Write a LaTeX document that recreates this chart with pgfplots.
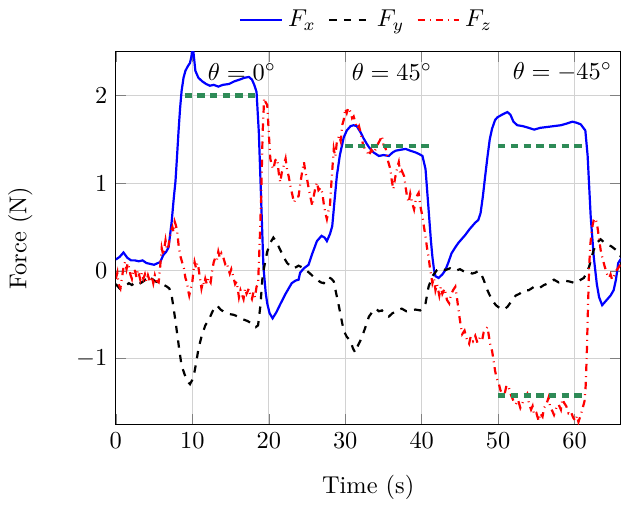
\documentclass[border=0pt]{standalone}
\usepackage{pgfplots}
\pgfplotsset{compat=1.18}
\definecolor{refgreen}{RGB}{46,139,87}
\begin{document}
\begin{tikzpicture}
\begin{axis}[
    scale only axis,
    width=207pt, height=153pt,
    xmin=0, xmax=66,
    ymin=-1.75, ymax=2.5,
    xtick={0,10,20,30,40,50,60},
    ytick={-1,0,1,2},
    xlabel={Time (s)},
    ylabel={Force (N)},
    ylabel shift=11pt,
    xlabel shift=4pt,
    grid=major,
    grid style={gray!35},
    legend style={at={(0.5,1.03)},anchor=south,legend columns=3,draw=none,
        /tikz/every even column/.append style={column sep=3pt}},
]
% F_x
\addplot[blue, line width=0.9pt] coordinates {
 (0,0.13) (0.5,0.16) (1,0.21) (1.5,0.15) (2,0.12) (2.5,0.12) (3,0.11) (3.5,0.12)
 (4,0.09) (4.5,0.08) (5,0.07) (5.5,0.09) (5.8,0.10) (6.2,0.18) (6.6,0.22) (6.9,0.27)
 (7.3,0.56) (7.6,0.85) (7.8,1.02) (8.0,1.30) (8.2,1.59) (8.4,1.85) (8.6,2.05) (8.85,2.20)
 (9.1,2.28) (9.4,2.33) (9.7,2.37) (9.9,2.45) (10.05,2.58) (10.2,2.45) (10.4,2.28) (10.8,2.20)
 (11.3,2.16) (11.8,2.13) (12.3,2.11) (12.8,2.12) (13.4,2.10) (14,2.12) (14.8,2.13) (15.5,2.16)
 (16.2,2.18) (16.8,2.20) (17.4,2.21) (17.8,2.18) (18.1,2.12) (18.4,2.04) (18.7,1.58) (19.0,0.82)
 (19.3,0.05) (19.6,-0.25) (19.8,-0.37) (20.1,-0.48) (20.5,-0.54) (21,-0.47) (21.5,-0.38) (22.2,-0.26)
 (22.6,-0.20) (23.0,-0.14) (23.5,-0.11) (23.9,-0.10) (24.1,-0.02) (24.6,0.03) (25.2,0.07) (25.7,0.20)
 (26.3,0.34) (26.9,0.40) (27.3,0.38) (27.6,0.34) (28.0,0.42) (28.3,0.51) (28.6,0.80) (28.9,1.08)
 (29.3,1.32) (29.8,1.52) (30.2,1.60) (30.7,1.65) (31.1,1.66) (31.5,1.65) (32.0,1.58) (32.4,1.51)
 (32.8,1.45) (33.1,1.41) (33.7,1.35) (34.4,1.31) (35.0,1.32) (35.7,1.31) (36.2,1.35) (36.6,1.37)
 (37.2,1.38) (37.9,1.39) (38.5,1.37) (39.2,1.35) (39.7,1.33) (40.1,1.31) (40.5,1.16) (40.9,0.70)
 (41.2,0.35) (41.4,0.16) (41.6,0.02) (41.8,-0.06) (42.2,-0.08) (42.7,-0.04) (43.1,0.01) (43.5,0.10)
 (43.9,0.20) (44.4,0.27) (44.8,0.32) (45.3,0.37) (45.7,0.41) (46.3,0.48) (47.0,0.55) (47.4,0.58)
 (47.7,0.66) (48.0,0.85) (48.3,1.08) (48.6,1.30) (48.9,1.50) (49.2,1.62) (49.6,1.72) (49.9,1.75)
 (50.5,1.78) (51.2,1.81) (51.6,1.78) (52.0,1.70) (52.5,1.66) (53.2,1.65) (54.0,1.63) (54.7,1.61)
 (55.5,1.63) (56.4,1.64) (57.3,1.65) (58.2,1.66) (59.0,1.68) (59.7,1.70) (60.2,1.69) (60.8,1.67)
 (61.4,1.60) (61.7,1.31) (62.1,0.62) (62.5,0.16) (62.9,-0.15) (63.2,-0.30) (63.6,-0.39) (64.2,-0.33)
 (64.7,-0.28) (65.1,-0.22) (65.4,-0.10) (65.7,0.09) (66.3,0.17)
};
% F_y
\addplot[black, dashed, line width=0.9pt] coordinates {
 (0,-0.15) (0.5,-0.20) (0.8,-0.18) (1.3,-0.17) (1.7,-0.14) (2.1,-0.16) (2.6,-0.13) (3.0,-0.15)
 (3.4,-0.13) (3.9,-0.10) (4.3,-0.12) (4.7,-0.09) (5.2,-0.12) (5.6,-0.13) (6.1,-0.15) (6.7,-0.18)
 (7.0,-0.20) (7.3,-0.28) (7.6,-0.45) (8.0,-0.70) (8.3,-0.90) (8.6,-1.08) (9.0,-1.18) (9.3,-1.25)
 (9.7,-1.29) (10.0,-1.24) (10.2,-1.19) (10.5,-1.05) (10.8,-0.89) (11.2,-0.75) (11.7,-0.62) (12.2,-0.55)
 (12.6,-0.47) (13.0,-0.40) (13.3,-0.40) (13.7,-0.44) (14.2,-0.47) (14.8,-0.49) (15.4,-0.50) (16.0,-0.52)
 (16.6,-0.55) (17.2,-0.57) (17.8,-0.60) (18.3,-0.64) (18.6,-0.62) (18.9,-0.40) (19.2,-0.05) (19.5,0.09)
 (19.8,0.22) (20.2,0.32) (20.6,0.38) (21.0,0.33) (21.5,0.24) (22.0,0.15) (22.4,0.09) (22.9,0.05)
 (23.3,0.03) (23.9,0.06) (24.6,0.03) (25.0,0.00) (25.4,-0.03) (25.9,-0.07) (26.3,-0.10) (26.8,-0.13)
 (27.2,-0.14) (27.5,-0.10) (27.8,-0.07) (28.2,-0.09) (28.5,-0.12) (28.8,-0.25) (29.1,-0.37) (29.5,-0.55)
 (29.8,-0.68) (30.2,-0.75) (30.7,-0.80) (31.0,-0.88) (31.3,-0.93) (31.6,-0.86) (32.0,-0.79) (32.4,-0.70)
 (32.8,-0.60) (33.1,-0.52) (33.6,-0.46) (34.0,-0.43) (34.4,-0.46) (34.8,-0.45) (35.3,-0.50) (35.7,-0.52)
 (36.2,-0.48) (36.6,-0.47) (37.0,-0.44) (37.4,-0.43) (38.0,-0.46) (38.7,-0.45) (39.2,-0.44) (39.8,-0.45)
 (40.2,-0.42) (40.5,-0.37) (40.9,-0.18) (41.4,-0.06) (42.0,0.01) (42.5,0.03) (43.1,0.01) (43.7,0.03)
 (44.4,0.00) (45.0,0.02) (45.6,-0.01) (46.1,-0.01) (46.6,-0.03) (47.0,-0.02) (47.4,0.00) (47.8,-0.04)
 (48.1,-0.10) (48.5,-0.20) (48.8,-0.26) (49.2,-0.33) (49.7,-0.39) (50.3,-0.43) (50.7,-0.44) (51.2,-0.41)
 (51.7,-0.35) (52.3,-0.28) (52.8,-0.26) (53.4,-0.22) (54.0,-0.22) (54.7,-0.18) (55.3,-0.20) (56.0,-0.16)
 (56.6,-0.14) (57.3,-0.10) (57.9,-0.13) (58.6,-0.11) (59.3,-0.12) (60.1,-0.14) (60.6,-0.11) (61.2,-0.08)
 (61.6,-0.02) (61.9,0.05) (62.2,0.15) (62.5,0.24) (62.9,0.32) (63.4,0.36) (63.8,0.33) (64.3,0.30)
 (64.8,0.28) (65.4,0.24) (65.9,0.18) (66.3,0.13)
};
% F_z
\addplot[red, dash dot, line width=0.9pt] coordinates {
 (0,-0.09) (0.2,-0.02) (0.35,-0.15) (0.6,-0.20) (0.8,-0.08) (1.0,0.04) (1.2,0.10) (1.4,0.02)
 (1.55,0.09) (1.7,0.05) (1.9,-0.04) (2.1,-0.09) (2.3,0.02) (2.5,0.00) (2.7,-0.07) (2.9,0.01)
 (3.2,-0.10) (3.4,-0.02) (3.6,-0.09) (3.8,-0.04) (4.0,-0.12) (4.2,-0.05) (4.5,-0.13) (4.7,-0.06)
 (4.9,-0.14) (5.1,-0.05) (5.3,-0.11) (5.6,-0.13) (5.8,0.05) (6.0,0.26) (6.2,0.18) (6.5,0.35)
 (6.7,0.24) (6.9,0.29) (7.05,0.38) (7.2,0.45) (7.4,0.50) (7.55,0.44) (7.7,0.56) (7.85,0.52)
 (8.0,0.47) (8.2,0.30) (8.4,0.18) (8.6,0.12) (8.9,0.03) (9.1,-0.08) (9.3,-0.13) (9.45,-0.22)
 (9.6,-0.28) (9.8,-0.20) (10.0,-0.13) (10.15,0.00) (10.3,0.10) (10.5,0.03) (10.65,0.09) (10.8,0.04)
 (11.0,-0.08) (11.2,-0.20) (11.4,-0.12) (11.55,-0.16) (11.7,-0.09) (11.9,-0.15) (12.1,-0.08) (12.4,-0.13)
 (12.6,0.00) (12.8,0.10) (13.0,0.15) (13.2,0.12) (13.4,0.22) (13.6,0.15) (13.8,0.20) (14.1,0.14)
 (14.3,0.08) (14.5,0.10) (14.7,0.03) (14.9,-0.03) (15.1,0.02) (15.4,-0.08) (15.6,-0.15) (15.8,-0.12)
 (16.1,-0.30) (16.3,-0.22) (16.5,-0.27) (16.7,-0.32) (16.9,-0.20) (17.1,-0.26) (17.4,-0.20) (17.6,-0.28)
 (17.8,-0.32) (18.0,-0.24) (18.2,-0.30) (18.4,-0.18) (18.6,-0.15) (18.8,0.30) (19.0,0.82) (19.2,1.58)
 (19.4,1.97) (19.6,1.92) (19.8,1.89) (20.0,1.58) (20.2,1.28) (20.4,1.20) (20.6,1.16) (20.85,1.26)
 (21.1,1.28) (21.3,1.12) (21.5,1.01) (21.7,1.12) (21.9,1.18) (22.2,1.28) (22.4,1.15) (22.6,1.08)
 (22.8,0.98) (23.0,0.90) (23.3,0.78) (23.6,0.84) (23.9,0.85) (24.1,0.98) (24.4,1.15) (24.6,1.24)
 (24.8,1.12) (25.0,1.05) (25.2,0.95) (25.4,0.86) (25.7,0.74) (25.9,0.86) (26.1,0.95) (26.3,1.01)
 (26.5,0.92) (26.8,0.95) (27.0,0.89) (27.2,0.76) (27.4,0.66) (27.6,0.59) (27.8,0.68) (28.0,0.74)
 (28.2,1.02) (28.5,1.39) (28.7,1.30) (28.9,1.47) (29.2,1.54) (29.4,1.48) (29.6,1.66) (29.8,1.72)
 (30.0,1.85) (30.2,1.80) (30.4,1.86) (30.7,1.81) (30.9,1.74) (31.1,1.76) (31.3,1.70) (31.6,1.62)
 (31.8,1.65) (32.0,1.58) (32.3,1.45) (32.6,1.38) (32.9,1.35) (33.1,1.31) (33.4,1.38) (33.7,1.34)
 (34.0,1.39) (34.3,1.45) (34.6,1.50) (34.8,1.54) (35.0,1.44) (35.3,1.39) (35.6,1.25) (35.9,1.16)
 (36.1,1.02) (36.3,0.93) (36.5,1.05) (36.8,1.18) (37.0,1.24) (37.2,1.10) (37.4,1.14) (37.7,1.08)
 (37.9,0.95) (38.1,0.84) (38.3,0.78) (38.5,0.88) (38.8,0.76) (39.0,0.70) (39.2,0.80) (39.4,0.86)
 (39.6,0.89) (39.8,0.75) (40.1,0.62) (40.3,0.50) (40.5,0.39) (40.7,0.26) (40.9,0.16) (41.1,0.02)
 (41.4,-0.14) (41.6,-0.08) (41.8,-0.22) (42.0,-0.15) (42.3,-0.28) (42.5,-0.18) (42.7,-0.26) (43.0,-0.20)
 (43.3,-0.33) (43.6,-0.37) (43.8,-0.28) (44.1,-0.22) (44.4,-0.18) (44.6,-0.30) (44.9,-0.50) (45.1,-0.62)
 (45.3,-0.72) (45.6,-0.68) (45.9,-0.78) (46.2,-0.83) (46.4,-0.75) (46.7,-0.80) (47.0,-0.74) (47.3,-0.82)
 (47.6,-0.76) (47.9,-0.79) (48.1,-0.70) (48.4,-0.66) (48.6,-0.64) (48.8,-0.75) (49.0,-0.86) (49.2,-0.91)
 (49.4,-1.02) (49.6,-1.14) (49.8,-1.22) (50.1,-1.29) (50.3,-1.36) (50.5,-1.40) (50.7,-1.44) (50.9,-1.38)
 (51.1,-1.30) (51.4,-1.33) (51.7,-1.42) (52.0,-1.48) (52.3,-1.52) (52.6,-1.47) (52.9,-1.56) (53.2,-1.50)
 (53.5,-1.44) (53.8,-1.40) (54.0,-1.50) (54.3,-1.58) (54.5,-1.54) (54.7,-1.64) (55.0,-1.62) (55.3,-1.71)
 (55.5,-1.62) (55.8,-1.66) (56.0,-1.56) (56.3,-1.52) (56.6,-1.44) (56.8,-1.55) (57.1,-1.60) (57.3,-1.64)
 (57.6,-1.56) (57.9,-1.52) (58.2,-1.58) (58.4,-1.46) (58.6,-1.50) (58.9,-1.54) (59.2,-1.62) (59.5,-1.60)
 (59.8,-1.67) (60.1,-1.71) (60.3,-1.65) (60.5,-1.72) (60.8,-1.64) (61.0,-1.58) (61.3,-1.48) (61.45,-1.30)
 (61.6,-0.91) (61.75,-0.40) (61.9,0.05) (62.05,0.30) (62.2,0.43) (62.35,0.52) (62.5,0.58) (62.7,0.60)
 (62.9,0.55) (63.05,0.46) (63.2,0.36) (63.4,0.24) (63.6,0.16) (63.9,0.06) (64.2,-0.03) (64.5,-0.08)
 (64.7,-0.04) (64.9,-0.10) (65.2,-0.05) (65.4,0.00) (65.6,0.02) (65.9,0.06) (66.3,0.09)
};
% reference forces
\addplot[refgreen, line width=1.8pt, dash pattern=on 3pt off 2.2pt, forget plot] coordinates {(9,2) (18.2,2)};
\addplot[refgreen, line width=1.8pt, dash pattern=on 3pt off 2.2pt, forget plot] coordinates {(30,1.42) (41,1.42)};
\addplot[refgreen, line width=1.8pt, dash pattern=on 3pt off 2.2pt, forget plot] coordinates {(50,1.42) (61.5,1.42)};
\addplot[refgreen, line width=1.8pt, dash pattern=on 3pt off 2.2pt, forget plot] coordinates {(50,-1.42) (61.5,-1.42)};
\node at (axis cs:16.5,2.27) {$\theta=0^\circ$};
\node at (axis cs:36.1,2.27) {$\theta=45^\circ$};
\node at (axis cs:58.4,2.27) {$\theta=-45^\circ$};
\legend{$F_x$,$F_y$,$F_z$}
\end{axis}
\end{tikzpicture}
\end{document}
